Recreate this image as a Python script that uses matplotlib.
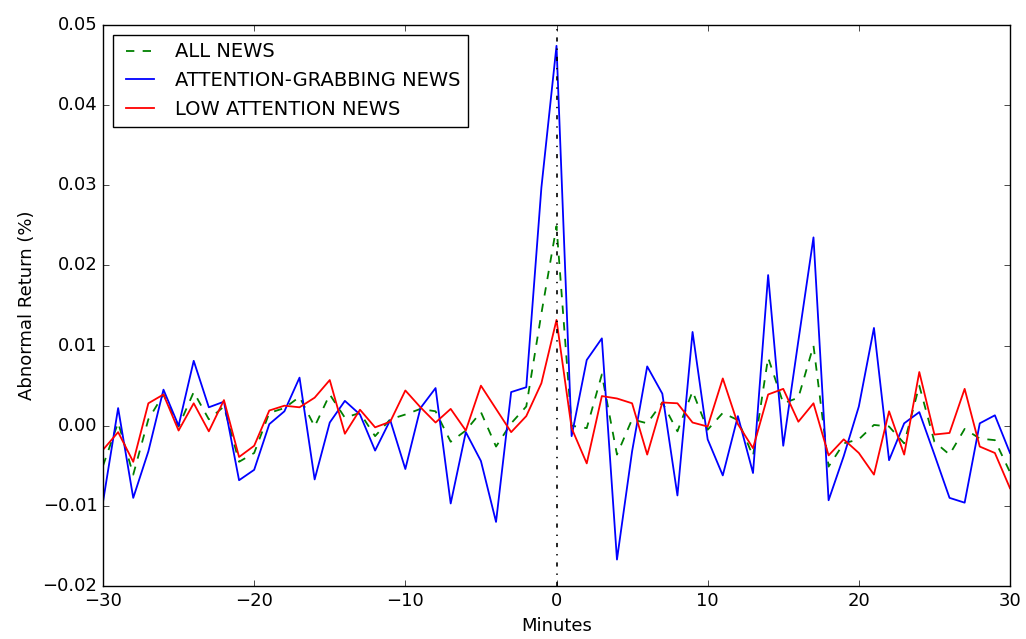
import matplotlib
import matplotlib.pyplot as plt
import numpy as np

matplotlib.use("Agg")

minutes = np.arange(-30, 31)

all_news = [
    -0.0050, 0.0004, -0.0061, 0.0008, 0.0039, -0.0001, 0.0042, 0.0008, 0.0024, -0.0045,
    -0.0034, 0.0016, 0.0022, 0.0036, -0.0001, 0.0039, 0.0010, 0.0016, -0.0013, 0.0008,
    0.0014, 0.0021, 0.0018, -0.0020, -0.0006, 0.0017, -0.0026, 0.0003, 0.0024, 0.0140,
    0.0249,
    0.0000, -0.0003, 0.0064, -0.0036, 0.0008, 0.0003, 0.0029, -0.0007, 0.0043, -0.0005,
    0.0016, 0.0007, -0.0038, 0.0085, 0.0028, 0.0035, 0.0100, -0.0051, -0.0022, -0.0017,
    0.0001, -0.0001, -0.0022, 0.0050, -0.0020, -0.0036, -0.0004, -0.0016, -0.0018, -0.0058,
]

attention_news = [
    -0.0095, 0.0022, -0.0090, -0.0032, 0.0045, 0.0000, 0.0081, 0.0023, 0.0030, -0.0068,
    -0.0055, 0.0002, 0.0018, 0.0060, -0.0067, 0.0004, 0.0031, 0.0014, -0.0031, 0.0007,
    -0.0054, 0.0022, 0.0047, -0.0097, -0.0008, -0.0044, -0.0120, 0.0042, 0.0048, 0.0297,
    0.0474,
    -0.0013, 0.0082, 0.0109, -0.0167, -0.0032, 0.0074, 0.0040, -0.0087, 0.0117, -0.0017,
    -0.0062, 0.0012, -0.0059, 0.0188, -0.0025, 0.0106, 0.0235, -0.0093, -0.0038, 0.0024,
    0.0122, -0.0043, 0.0003, 0.0017, -0.0036, -0.0090, -0.0096, 0.0003, 0.0013, -0.0034,
]

low_news = [
    -0.0030, -0.0008, -0.0045, 0.0028, 0.0039, -0.0006, 0.0028, -0.0007, 0.0032, -0.0039,
    -0.0025, 0.0019, 0.0025, 0.0023, 0.0035, 0.0057, -0.0010, 0.0020, -0.0002, 0.0005,
    0.0044, 0.0023, 0.0004, 0.0021, -0.0006, 0.0050, 0.0021, -0.0008, 0.0012, 0.0053,
    0.0132,
    -0.0003, -0.0047, 0.0037, 0.0034, 0.0028, -0.0036, 0.0029, 0.0028, 0.0004, -0.0001,
    0.0059, 0.0002, -0.0028, 0.0039, 0.0046, 0.0005, 0.0028, -0.0037, -0.0017, -0.0034,
    -0.0061, 0.0018, -0.0036, 0.0067, -0.0011, -0.0009, 0.0046, -0.0026, -0.0034, -0.0078,
]

plt.style.use("classic")

fig = plt.figure(figsize=(10.26, 6.39), dpi=100, facecolor="white")
ax = fig.add_axes([0.1004, 0.0829, 0.8840, 0.8780])

ax.plot(minutes, all_news, "g--", lw=1.3, label="ALL NEWS")
ax.plot(minutes, attention_news, "b-", lw=1.3, label="ATTENTION-GRABBING NEWS")
ax.plot(minutes, low_news, "r-", lw=1.3, label="LOW ATTENTION NEWS")
ax.axvline(0, color="black", linestyle="-.", lw=1.2)

ax.set_xlim(-30, 30)
ax.set_ylim(-0.02, 0.05)
ax.set_xlabel("Minutes", fontsize=13)
ax.set_ylabel("Abnormal Return (%)", fontsize=13)
ax.tick_params(labelsize=13)
ax.legend(loc="upper left", fontsize=14)

fig.savefig("out.png", dpi=100, facecolor="white")
